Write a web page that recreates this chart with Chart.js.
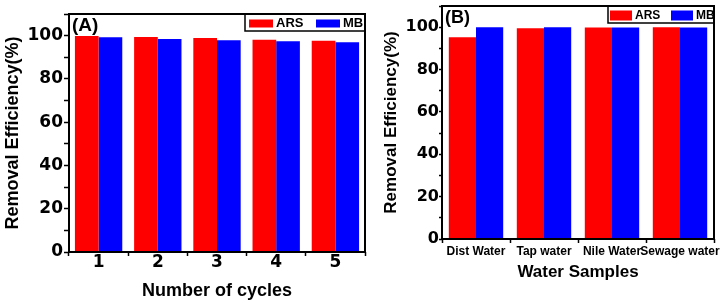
<!DOCTYPE html>
<html>
<head>
<meta charset="utf-8">
<script src="https://cdn.jsdelivr.net/npm/chart.js@4/dist/chart.umd.min.js"></script>
<style>
  body { margin: 0; background: #fff; width: 728px; height: 306px; overflow: hidden; }
  canvas { position: absolute; top: 0; }
  #chart-a { left: 0; }
  #chart-b { left: 368px; }
</style>
</head>
<body>
<canvas id="chart-a" width="368" height="306"></canvas>
<canvas id="chart-b" width="360" height="306"></canvas>
<script>
'use strict';

//***********Data***********
let seriesNames = ['ARS', 'MB'];
let seriesColors = ['#ff0000', '#0000ff'];
let yTicks = [0, 20, 40, 60, 80, 100];

// (A) reuse cycles
let cycleLabels = ['1', '2', '3', '4', '5'];
let cycleArs = [99.8, 99.4, 98.9, 98.1, 97.6];
let cycleMb = [99.2, 98.5, 97.9, 97.4, 96.9];

// (B) real water samples
let sampleLabels = ['Dist Water', 'Tap water', 'Nile Water', 'Sewage water'];
let sampleArs = [95.2, 99.5, 99.8, 100];
let sampleMb = [100, 100, 99.8, 99.9];

const ARIAL = '"Liberation Sans", Arial, sans-serif';
const DEJAVU = '"DejaVu Sans", sans-serif';

//***********Frame, panel tag and boxed legend***********
let panelDecor = {
  id: 'panelDecor',
  afterDraw(chart, args, opts) {
    let ctx = chart.ctx;
    let a = chart.chartArea;
    ctx.save();
    ctx.strokeStyle = '#000';
    ctx.lineWidth = 2;
    ctx.strokeRect(a.left, a.top, a.right - a.left, a.bottom - a.top);

    ctx.fillStyle = '#000';
    ctx.font = `bold ${opts.tagSize}px ${ARIAL}`;
    ctx.textAlign = 'left';
    ctx.textBaseline = 'alphabetic';
    ctx.fillText(opts.tag, a.left + 3, a.top + 17);

    let lg = opts.legend;
    let bx = a.right - lg.w;
    let by = a.top;
    ctx.lineWidth = 1.5;
    ctx.strokeRect(bx, by, lg.w, lg.h);
    let cy = by + lg.h / 2 + 1;
    ctx.font = `bold ${lg.font}px ${ARIAL}`;
    ctx.textBaseline = 'middle';
    chart.data.datasets.forEach((ds, i) => {
      let x = bx + lg.x[i];
      ctx.fillStyle = ds.backgroundColor;
      ctx.fillRect(x, cy - lg.sh / 2, lg.sw, lg.sh);
      ctx.fillStyle = '#000';
      ctx.fillText(ds.label, x + lg.sw + lg.gap, cy);
    });
    ctx.restore();
  }
};

//***********Chart builder***********
function makeChart(id, labels, ars, mb, o) {
  let ctx = document.getElementById(id).getContext('2d');
  return new Chart(ctx, {
    type: 'bar',
    data: {
      labels: labels,
      datasets: [
        { label: seriesNames[0], data: ars, backgroundColor: seriesColors[0], borderWidth: 0 },
        { label: seriesNames[1], data: mb, backgroundColor: seriesColors[1], borderWidth: 0 }
      ]
    },
    options: {
      responsive: false,
      animation: false,
      categoryPercentage: 0.8,
      barPercentage: 1,
      layout: { padding: o.padding },
      plugins: {
        legend: { display: false },
        tooltip: { enabled: false },
        panelDecor: { tag: o.tag, tagSize: o.tagSize, legend: o.legend }
      },
      scales: {
        x: {
          ticks: {
            color: '#000',
            maxRotation: 0,
            minRotation: 0,
            autoSkip: false,
            padding: o.xTickPad,
            font: o.xTickFont
          },
          grid: { display: true, drawOnChartArea: false, offset: true, tickLength: 4, tickWidth: 1.5, tickColor: '#000' },
          border: { display: false },
          title: {
            display: true,
            text: o.xTitle,
            color: '#000',
            font: { family: ARIAL, weight: 'bold', size: o.xTitleSize },
            padding: { top: 0, bottom: o.xTitlePad }
          },
          afterFit: s => { s.height = o.xHeight; }
        },
        y: {
          min: 0,
          max: 110,
          ticks: {
            stepSize: 10,
            color: '#000',
            padding: o.yTickPad,
            font: { family: DEJAVU, weight: 'bold', size: o.yTickSize, lineHeight: 0.6 },
            callback: v => yTicks.includes(v) ? v : ''
          },
          grid: { display: true, drawOnChartArea: false, tickLength: o.yTickLen, tickWidth: 1.5, tickColor: '#000' },
          border: { display: false },
          title: {
            display: true,
            text: 'Removal Efficiency(%)',
            color: '#000',
            font: { family: ARIAL, weight: 'bold', size: o.yTitleSize },
            padding: { top: o.yTitlePad, bottom: 0 }
          },
          afterFit: s => { s.width = o.yWidth; }
        }
      }
    },
    plugins: [panelDecor]
  });
}

makeChart('chart-a', cycleLabels, cycleArs, cycleMb, {
  padding: { top: 14, right: 3, left: 0, bottom: 0 },
  tag: '(A)', tagSize: 19,
  legend: { w: 120, h: 17, sw: 24, sh: 8, x: [4, 71], gap: 3, font: 13 },
  xTitle: 'Number of cycles', xTitleSize: 18, xTitlePad: 4,
  xTickFont: { family: DEJAVU, weight: 'bold', size: 17, lineHeight: 1 },
  xTickPad: -2,
  xHeight: 54,
  yWidth: 69, yTickSize: 17, yTickPad: 1, yTickLen: 5,
  yTitleSize: 18, yTitlePad: 2
});

makeChart('chart-b', sampleLabels, sampleArs, sampleMb, {
  padding: { top: 6, right: 14, left: 0, bottom: 0 },
  tag: '(B)', tagSize: 18,
  legend: { w: 106, h: 17, sw: 22, sh: 10, x: [2, 63], gap: 3, font: 12 },
  xTitle: 'Water Samples', xTitleSize: 17, xTitlePad: 23,
  xTickFont: { family: ARIAL, weight: 'bold', size: 12 },
  xTickPad: 1,
  xHeight: 67,
  yWidth: 74, yTickSize: 16, yTickPad: 0, yTickLen: 3,
  yTitleSize: 17, yTitlePad: 13
});
</script>
</body>
</html>
